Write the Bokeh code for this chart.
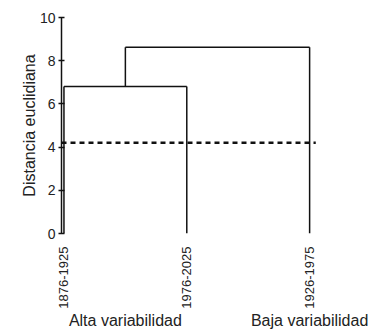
import math
from bokeh.plotting import figure
from bokeh.models import FixedTicker, Range1d, LinearAxis
from bokeh.embed import file_html
from bokeh.resources import INLINE

# ---- data ----
leaves = ["1876-1925", "1976-2025", "1926-1975"]   # leaf order on the x axis
merge_a = [0, 3]            # scipy-style linkage: child ids (leaves 0..2, nodes 3..)
merge_b = [1, 2]
merge_h = [6.8, 8.62]       # Euclidean distance at each merge
cut_height = 4.2
group_names = ["Alta variabilidad", "Baja variabilidad"]
group_members = [[0, 1], [2]]
y_ticks = [0, 2, 4, 6, 8, 10]

FONT = "Liberation Sans"
INK = "#111111"

# node positions
node_x = {i: float(i) for i in range(len(leaves))}
node_h = {i: 0.0 for i in range(len(leaves))}
x0s, y0s, x1s, y1s = [], [], [], []
for k, (a, b, h) in enumerate(zip(merge_a, merge_b, merge_h)):
    nid = len(leaves) + k
    for c in (a, b):
        x0s.append(node_x[c]); y0s.append(node_h[c]); x1s.append(node_x[c]); y1s.append(h)
    x0s.append(node_x[a]); y0s.append(h); x1s.append(node_x[b]); y1s.append(h)
    node_x[nid] = (node_x[a] + node_x[b]) / 2.0
    node_h[nid] = h

p = figure(width=369, height=332, output_backend="svg", toolbar_location=None,
           x_range=Range1d(-0.02, 2.17), y_range=Range1d(0, 10),
           min_border_left=61, min_border_right=39, min_border_top=17, min_border_bottom=99)
p.outline_line_color = None
p.xgrid.visible = False
p.ygrid.visible = False
p.background_fill_color = "white"

p.segment(x0=x0s, y0=y0s, x1=x1s, y1=y1s, line_color=INK, line_width=1.5)

p.segment(x0=[min(node_x[i] for i in range(len(leaves))) - 0.02],
          y0=[cut_height],
          x1=[max(node_x[i] for i in range(len(leaves))) + 0.05],
          y1=[cut_height], line_color=INK, line_width=2.5, line_dash="5 4")

# y axis
ya = p.yaxis[0]
ya.ticker = FixedTicker(ticks=y_ticks)
ya.minor_tick_line_color = None
ya.major_tick_in = 3
ya.major_tick_out = 3
ya.axis_line_width = 1.5
ya.axis_line_color = INK
ya.major_tick_line_width = 1.5
ya.major_tick_line_color = INK
ya.major_label_text_font = FONT
ya.major_label_text_font_size = "14px"
ya.major_label_text_color = "#222222"
ya.major_label_standoff = 3
ya.axis_label = "Distancia euclidiana"
ya.axis_label_text_font = FONT
ya.axis_label_text_font_size = "16px"
ya.axis_label_text_font_style = "normal"
ya.axis_label_text_color = "#222222"
ya.axis_label_standoff = -1

# x axis (leaf labels)
xa = p.xaxis[0]
xa.ticker = FixedTicker(ticks=list(range(len(leaves))))
xa.major_label_overrides = {i: s for i, s in enumerate(leaves)}
xa.major_label_orientation = math.pi / 2
xa.axis_line_color = None
xa.major_tick_line_color = None
xa.minor_tick_line_color = None
xa.major_label_text_font = FONT
xa.major_label_text_font_size = "13px"
xa.major_label_text_color = "#222222"
xa.major_label_standoff = 7

# group labels as a second, line-less axis below
centers = [sum(node_x[m] for m in members) / len(members) for members in group_members]
ga = LinearAxis(ticker=FixedTicker(ticks=centers),
                major_label_overrides={c: n for c, n in zip(centers, group_names)})
ga.axis_line_color = None
ga.major_tick_line_color = None
ga.minor_tick_line_color = None
ga.major_label_text_font = FONT
ga.major_label_text_font_size = "16px"
ga.major_label_text_color = "#222222"
ga.major_label_standoff = -6
p.add_layout(ga, "below")

open("out.html", "w").write(file_html(p, INLINE))
